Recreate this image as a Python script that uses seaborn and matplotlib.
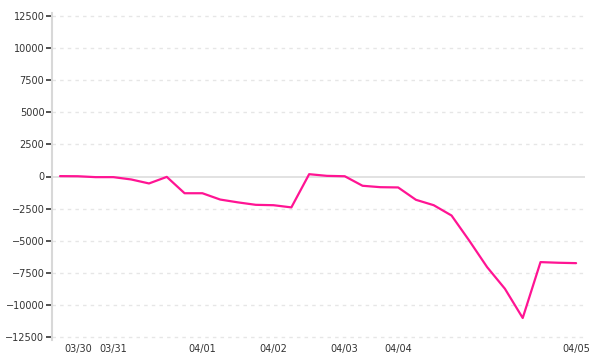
import matplotlib
matplotlib.use("Agg")
import matplotlib.pyplot as plt
import seaborn as sns
import pandas as pd
import numpy as np

# Data (one point per sample, evenly spaced)
values = [30, 20, -50, -50, -230, -540, -30, -1300, -1300, -1790,
          -2010, -2200, -2230, -2400, 180, 50, 20, -720, -830, -850,
          -1810, -2230, -3030, -4990, -7040, -8720, -10990, -6650, -6700, -6730]
tick_positions = [1, 3, 8, 12, 16, 19, 29]
tick_labels = ["03/30", "03/31", "04/01", "04/02", "04/03", "04/04", "04/05"]
y_ticks = [-12500, -10000, -7500, -5000, -2500, 0, 2500, 5000, 7500, 10000, 12500]

df = pd.DataFrame({"idx": np.arange(len(values)), "value": values})

sns.set_theme(style="ticks")
plt.rcParams['font.family'] = ['DejaVu Sans']

fig = plt.figure(figsize=(6, 3.6), dpi=100)
ax = fig.add_axes([52/600, 1-340/360, (585-52)/600, (340-13)/360])

sns.lineplot(data=df, x="idx", y="value", ax=ax, color="#ff1493", linewidth=1.6)

ax.set_xlim(-0.45, 29.5)
ax.set_ylim(-12700, 12700)
ax.set_yticks(y_ticks)
ax.set_yticklabels([str(v).replace("-", "\u2212") for v in y_ticks])
ax.set_xticks(tick_positions)
ax.set_xticklabels(tick_labels)
ax.set_xlabel("")
ax.set_ylabel("")

for v in y_ticks:
    if v == 0:
        ax.axhline(v, color="#dddddd", linewidth=1.2, zorder=0)
    else:
        ax.axhline(v, color="#e6e6e6", linewidth=1.0, linestyle=(0, (2.5, 3)), zorder=0)

for s in ["top", "right", "bottom"]:
    ax.spines[s].set_visible(False)
ax.spines["left"].set_color("#d8d8d8")
ax.spines["left"].set_linewidth(1.5)

ax.tick_params(axis="y", which="major", left=True, direction="out", length=4.5, width=1.1,
               color="#222222", labelsize=7, labelcolor="#333333", pad=1)
ax.tick_params(axis="x", bottom=False, length=0, labelsize=7, labelcolor="#333333", pad=3)

fig.savefig("out.png", dpi=100, facecolor="white")
